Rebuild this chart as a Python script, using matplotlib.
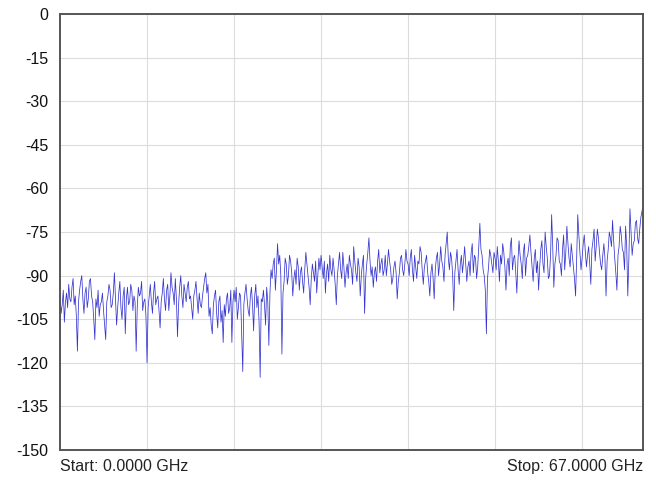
import numpy as np
import matplotlib.pyplot as plt

plt.rcParams['font.family'] = ['Liberation Sans', 'DejaVu Sans']

# trace, 0.125 GHz steps, one list per 10 GHz span
seg_00_10 = [-97, -103, -100, -95, -106, -99, -96, -101, -93, -98,
             -99, -94, -91, -100, -97, -104, -116, -99, -95, -92,
             -90, -98, -103, -96, -94, -101, -98, -92, -91, -97,
             -99, -105, -112, -98, -101, -95, -104, -100, -99, -96,
             -102, -107, -112, -99, -97, -93, -95, -101, -100, -96,
             -89, -98, -107, -101, -96, -92, -101, -105, -97, -94,
             -110, -98, -94, -100, -99, -93, -95, -102, -97, -99,
             -116, -101, -94, -97, -96, -92, -102, -99, -98, -104]
seg_10_20 = [-120, -101, -97, -93, -99, -103, -96, -92, -100, -98,
             -97, -102, -108, -99, -96, -91, -98, -102, -95, -93,
             -102, -97, -89, -94, -96, -100, -91, -98, -111, -100,
             -94, -90, -97, -101, -93, -96, -99, -94, -92, -98,
             -97, -101, -105, -97, -95, -92, -98, -103, -96, -100,
             -101, -97, -94, -91, -89, -96, -93, -104, -101, -107,
             -110, -100, -97, -95, -103, -108, -99, -97, -106, -102,
             -113, -100, -104, -98, -96, -103, -101, -95, -113, -99]
seg_20_30 = [-95, -99, -94, -105, -101, -96, -97, -110, -123, -100,
             -96, -93, -98, -102, -104, -97, -94, -100, -109, -97,
             -93, -101, -97, -106, -125, -98, -99, -95, -100, -107,
             -94, -99, -114, -96, -88, -91, -86, -84, -95, -88,
             -79, -86, -83, -90, -117, -96, -92, -84, -86, -93,
             -90, -83, -85, -89, -97, -91, -88, -93, -84, -87,
             -95, -89, -87, -92, -96, -88, -82, -86, -90, -94,
             -100, -91, -86, -89, -92, -85, -96, -90, -84, -88]
seg_30_40 = [-83, -87, -91, -85, -96, -89, -86, -92, -83, -88,
             -90, -84, -88, -93, -100, -90, -86, -82, -88, -91,
             -82, -87, -94, -89, -86, -91, -83, -86, -88, -93,
             -80, -85, -89, -92, -84, -87, -97, -90, -86, -83,
             -103, -91, -86, -82, -77, -85, -90, -87, -94, -89,
             -87, -92, -85, -81, -89, -86, -84, -90, -88, -83,
             -90, -86, -81, -85, -88, -93, -91, -87, -85, -89,
             -98, -92, -89, -84, -83, -88, -90, -86, -81, -85]
seg_40_50 = [-86, -90, -84, -81, -88, -92, -83, -87, -91, -85,
             -86, -80, -82, -88, -93, -87, -85, -83, -89, -92,
             -97, -89, -86, -91, -98, -88, -84, -82, -90, -86,
             -80, -85, -87, -92, -83, -79, -75, -84, -88, -82,
             -84, -90, -102, -89, -85, -81, -88, -93, -86, -83,
             -89, -85, -80, -86, -92, -87, -85, -90, -82, -79,
             -89, -83, -84, -91, -87, -80, -72, -81, -83, -88,
             -90, -95, -110, -91, -87, -81, -83, -86, -89, -82]
seg_50_60 = [-84, -88, -80, -85, -92, -83, -86, -79, -82, -87,
             -95, -86, -84, -90, -80, -77, -88, -84, -83, -89,
             -96, -85, -78, -83, -86, -91, -82, -79, -90, -84,
             -83, -80, -76, -82, -87, -92, -84, -81, -89, -85,
             -95, -87, -81, -78, -86, -89, -75, -80, -84, -91,
             -90, -83, -69, -80, -94, -86, -83, -77, -78, -85,
             -86, -90, -81, -76, -88, -82, -73, -79, -84, -87,
             -79, -83, -87, -91, -97, -84, -69, -76, -82, -88]
seg_60_67 = [-84, -79, -76, -82, -87, -83, -80, -86, -93, -81,
             -78, -74, -85, -80, -74, -77, -82, -86, -88, -83,
             -79, -84, -97, -85, -81, -75, -77, -80, -71, -78,
             -84, -89, -95, -83, -80, -73, -76, -81, -82, -88,
             -73, -80, -97, -84, -67, -75, -83, -79, -78, -72,
             -71, -77, -79, -74, -70, -68, -66]

level_db = np.array(seg_00_10 + seg_10_20 + seg_20_30 + seg_30_40
                    + seg_40_50 + seg_50_60 + seg_60_67)
freq_ghz = np.linspace(0, 67, len(level_db))

y_ticks = [0, -15, -30, -45, -60, -75, -90, -105, -120, -135, -150]
x_grid = [10, 20, 30, 40, 50, 60]

fig = plt.figure(figsize=(6.56, 4.84), dpi=100)
ax = fig.add_axes([0.0915, 0.0702, 0.8887, 0.9008])

ax.plot(freq_ghz, level_db, color='#3434d0', linewidth=0.55)

ax.set_xlim(0, 67)
ax.set_ylim(-150, 0)
ax.set_yticks(y_ticks)
ax.set_yticklabels([str(t) for t in y_ticks], fontsize=11.5, color='#111111')
ax.set_xticks(x_grid)
ax.set_xticklabels([])
ax.tick_params(length=0)
ax.tick_params(axis='y', pad=8.5)
ax.grid(True, color='#dcdcdc', linewidth=0.8)
ax.set_axisbelow(True)
for s in ax.spines.values():
    s.set_color('#555555')
    s.set_linewidth(1.4)

fig.text(0.0915, 0.037, 'Start: 0.0000 GHz', fontsize=11.5, color='#222222',
         ha='left', va='center')
fig.text(0.980, 0.037, 'Stop: 67.0000 GHz', fontsize=11.5, color='#222222',
         ha='right', va='center')

fig.savefig('out.png', dpi=100)
